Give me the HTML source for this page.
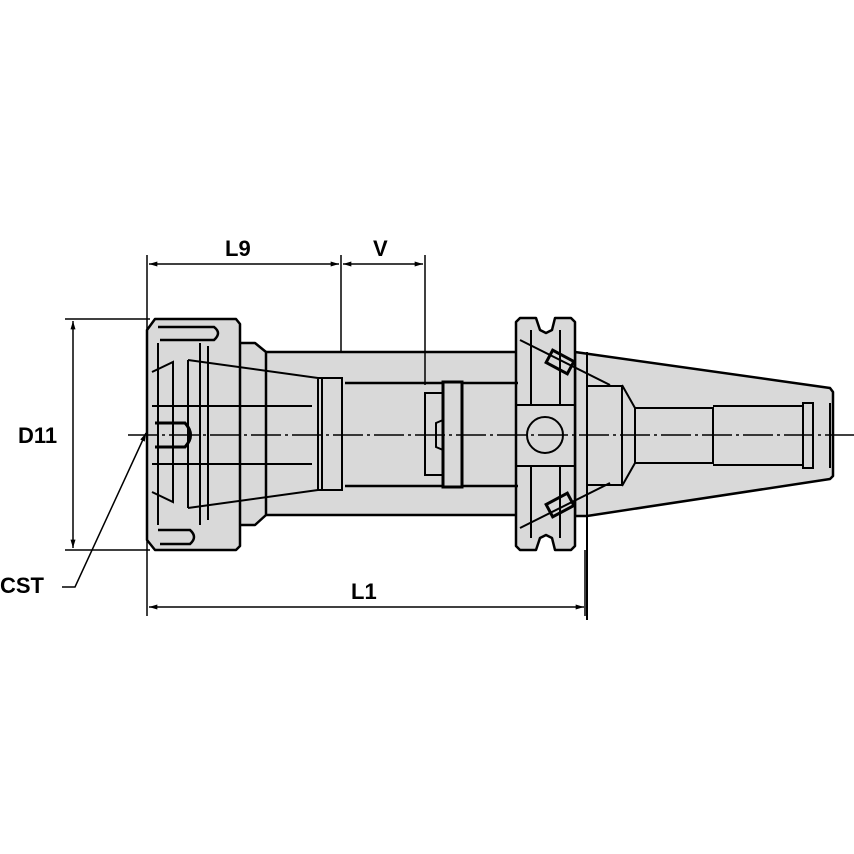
<!DOCTYPE html>
<html><head><style>
body{margin:0;background:#fff}
svg{display:block}
text{font-family:"Liberation Sans",Arial,sans-serif;font-weight:bold;font-size:22px;fill:#000}
</style></head><body>
<svg width="854" height="854" viewBox="0 0 854 854" xmlns="http://www.w3.org/2000/svg">
<defs>
<marker id="a" viewBox="0 0 10 6" refX="10" refY="3" markerWidth="16" markerHeight="5" markerUnits="userSpaceOnUse" orient="auto-start-reverse"><path d="M0,0 L10,3 L0,6 z" fill="#000"/></marker>
</defs>
<g stroke="#000" fill="#d9d9d9" stroke-width="2.5" stroke-linejoin="round">
<rect x="250" y="352" width="270" height="163"/>
<path d="M575,352 L830,388 L833,392 L833,476 L830,479 L587,516 L575,516 Z"/>
<path d="M237,343 L255,343 L266,352 L266,515 L255,525 L237,525 Z"/>
<path d="M155,319 L236,319 L240,324 L240,546 L236,550 L155,550 L147,540 L147,330 Z"/>
<path d="M520,318 L536,318 L540,330 L546,333 L552,330 L555,318 L571,318 L575,322 L575,546 L571,550 L555,550 L552,538 L546,535 L540,538 L536,550 L520,550 L516,546 L516,322 Z"/>
</g>
<g stroke="#000" fill="none" stroke-width="2">
<path d="M158,343 L158,525 M200,343 L200,525 M208,346 L208,520"/>
<path d="M158,327 L214,327 Q222,333 214,340 L160,340" stroke-width="2.5"/>
<path d="M158,530 L190,530 Q198,537 190,544 L160,544" stroke-width="2.5"/>
<path d="M152,372 L173,362 L173,502 L152,492"/>
<path d="M188,360 L318,378 L318,490 L188,508"/>
<path d="M188,360 L188,508 M318,378 L342,378 L342,490 L318,490 M322,378 L322,490"/>
<path d="M152,406 L312,406 M152,464 L312,464"/>
<path d="M155,423 L185,423 Q196,435 185,447 L155,447" stroke-width="3"/>
<path d="M345,383 L518,383 M345,486 L518,486" stroke-width="2.5"/>
<rect x="425" y="393" width="18" height="82" fill="#d9d9d9"/>
<rect x="443" y="382" width="19" height="105" fill="#d9d9d9" stroke-width="3"/>
<path d="M443,420 L436,423 L436,447 L443,450"/>
<path d="M516,405 L575,405 M516,466 L575,466 M531,330 L531,405 M560,330 L560,405 M531,466 L531,538 M560,466 L560,538"/>
<circle cx="545" cy="435" r="18" fill="#d9d9d9"/>
<path d="M520,340 L610,385 M520,528 L610,483"/>
<rect x="548" y="355" width="24" height="14" transform="rotate(28 560 362)" stroke-width="3"/>
<rect x="548" y="498" width="24" height="14" transform="rotate(-28 560 505)" stroke-width="3"/>
<path d="M587,352 L587,620"/>
<path d="M622,385 L635,408 L713,408 L713,463 L635,463 L622,486 M586,386 L622,386 M586,485 L622,485 M622,385 L622,486"/>
<path d="M635,408 L635,463"/>
<path d="M713,406 L803,406 L803,465 L713,465"/>
<rect x="803" y="403" width="10" height="65"/>
<path d="M830,403 L830,468"/>
</g>
<path d="M128,435 L854,435" stroke="#000" stroke-width="1.5" stroke-dasharray="30,4,3,4"/>
<g stroke="#000" stroke-width="1.5" fill="none">
<path d="M147,255 L147,616 M341,255 L341,352 M425,255 L425,385"/>
<path d="M149,264 L339,264" marker-start="url(#a)" marker-end="url(#a)"/>
<path d="M343,264 L423,264" marker-start="url(#a)" marker-end="url(#a)"/>
<path d="M65,319 L150,319 M65,550 L150,550"/>
<path d="M73,321 L73,548" marker-start="url(#a)" marker-end="url(#a)"/>
<path d="M149,607 L584,607" marker-start="url(#a)" marker-end="url(#a)"/>
<path d="M585,550 L585,616"/>
<path d="M62,587 L75,587 L146,433" marker-end="url(#a)"/>
</g>
<text x="225" y="256">L9</text>
<text x="373" y="256">V</text>
<text x="18" y="443">D11</text>
<text x="0" y="593">CST</text>
<text x="351" y="599">L1</text>
</svg>
</body></html>
